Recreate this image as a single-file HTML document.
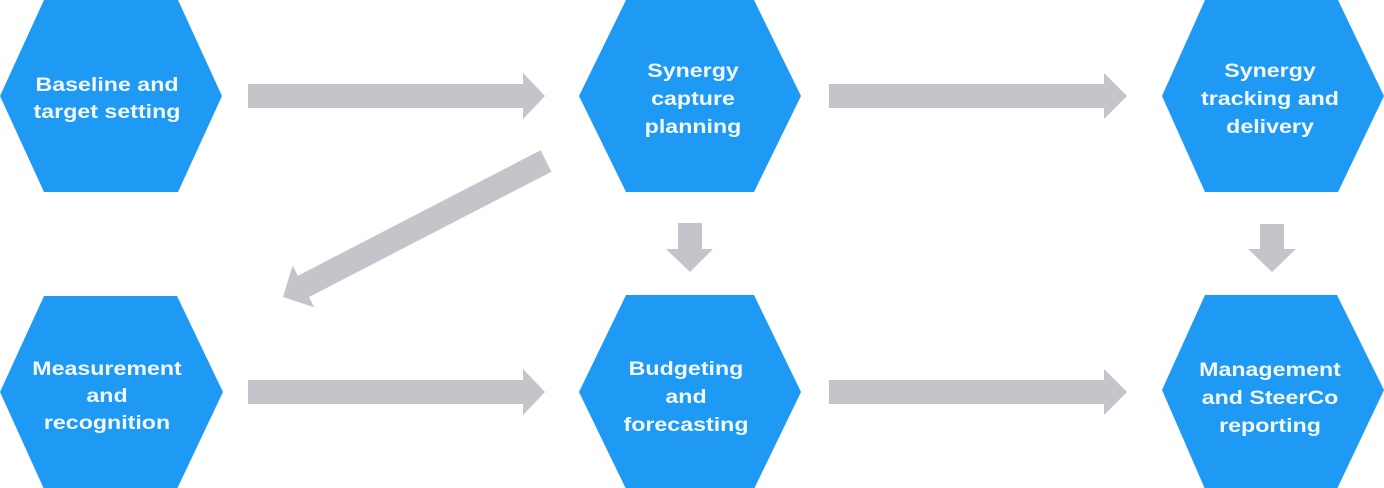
<!DOCTYPE html>
<html>
<head>
<meta charset="utf-8">
<style>
  html,body{margin:0;padding:0;background:#ffffff;}
  body{width:1384px;height:488px;overflow:hidden;}
  svg{display:block;}
  text{font-family:"Liberation Sans",Arial,sans-serif;font-weight:bold;font-size:19.5px;fill:#f2f8fd;text-anchor:middle;}
</style>
</head>
<body>
<svg width="1384" height="488" viewBox="0 0 1384 488" xmlns="http://www.w3.org/2000/svg">
  <!-- Hexagons -->
  <g fill="#1e9af4">
    <polygon points="0,96 44,0 178,0 222,96 178,192 44,192"/>
    <polygon points="579,96 626,0 754,0 801,96 754,192 626,192"/>
    <polygon points="1162,96 1205,0 1338,0 1384,96 1338,192 1205,192"/>
    <polygon points="0,392 44,296 177,296 223,392 177,489 44,489"/>
    <polygon points="579,392 626,295 754,295 801,392 754,489 626,489"/>
    <polygon points="1162,390 1205,295 1337,295 1384,390 1337,489 1205,489"/>
  </g>

  <!-- Arrows -->
  <g fill="#c4c5cb">
    <!-- top row horizontals -->
    <polygon points="248,84 523,84 523,73 545,96 523,119 523,108 248,108"/>
    <polygon points="829,84 1104,84 1104,73 1127,96 1104,119 1104,108 829,108"/>
    <!-- bottom row horizontals -->
    <polygon points="248,380 523,380 523,369 545,392 523,415 523,404 248,404"/>
    <polygon points="829,380 1104,380 1104,369 1127,392 1104,415 1104,404 829,404"/>
    <!-- down arrows -->
    <polygon points="678,223 702,223 702,249 713,249 690,272 666,249 678,249"/>
    <polygon points="1260,224 1284,224 1284,249 1296,249 1272,272 1248,249 1260,249"/>
    <!-- diagonal arrow -->
    <polygon points="540.5,150.3 297.9,275.7 292.6,265.5 283,297 314.2,307.3 308.9,297.1 551.5,171.7"/>
  </g>

  <!-- Labels -->
  <g>
    <text transform="translate(107,91) scale(1.19,1)">Baseline and</text>
    <text transform="translate(107,118) scale(1.19,1)">target setting</text>

    <text transform="translate(693,77) scale(1.19,1)">Synergy</text>
    <text transform="translate(693,105) scale(1.19,1)">capture</text>
    <text transform="translate(693,133) scale(1.19,1)">planning</text>

    <text transform="translate(1270,77) scale(1.19,1)">Synergy</text>
    <text transform="translate(1270,105) scale(1.19,1)">tracking and</text>
    <text transform="translate(1270,133) scale(1.19,1)">delivery</text>

    <text transform="translate(107,375) scale(1.19,1)">Measurement</text>
    <text transform="translate(107,402) scale(1.19,1)">and</text>
    <text transform="translate(107,429) scale(1.19,1)">recognition</text>

    <text transform="translate(686,375) scale(1.19,1)">Budgeting</text>
    <text transform="translate(686,403) scale(1.19,1)">and</text>
    <text transform="translate(686,431) scale(1.19,1)">forecasting</text>

    <text transform="translate(1270,376) scale(1.19,1)">Management</text>
    <text transform="translate(1270,404) scale(1.19,1)">and SteerCo</text>
    <text transform="translate(1270,432) scale(1.19,1)">reporting</text>
  </g>
</svg>
</body>
</html>
